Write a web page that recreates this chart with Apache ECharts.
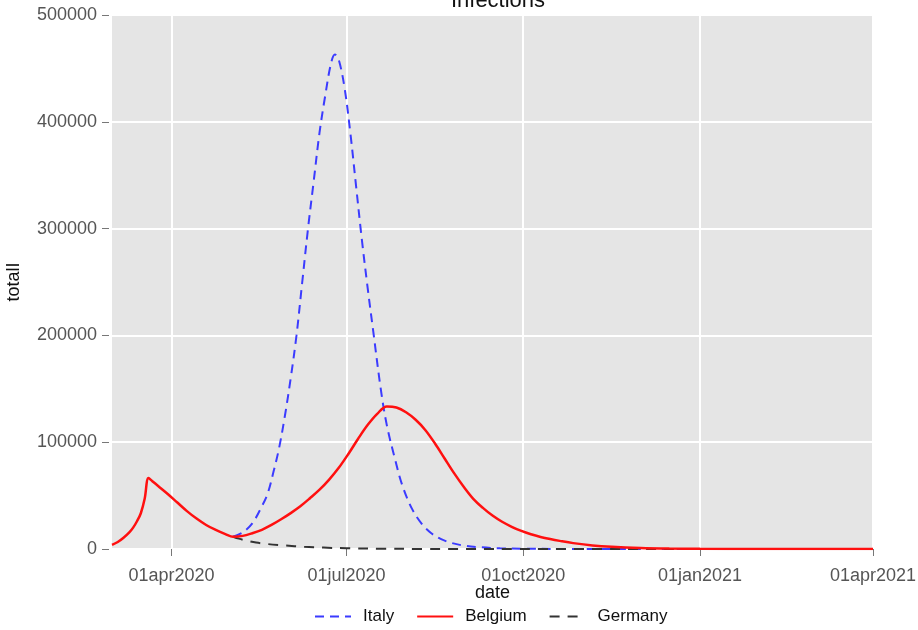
<!DOCTYPE html>
<html lang="en">
  <head>
    <meta charset="UTF-8" />
    <title>Infections</title>
    <style>
      body {
        margin: 0;
        padding: 0;
        background-color: #ffffff;
      }
      #container {
        width: 918px;
        height: 630px;
      }
    </style>
  </head>
  <body>
    <div id="container"></div>

    <script src="https://cdn.jsdelivr.net/npm/echarts@6/dist/echarts.min.js"></script>
    <script>
      // dates (ticks on the x axis)
      const xTickDates = ["2020-04-01", "2020-07-01", "2020-10-01", "2021-01-01", "2021-04-01"];
      const xTickLabels = ["01apr2020", "01jul2020", "01oct2020", "01jan2021", "01apr2021"];
      const xMin = "2020-03-01";
      const xMax = "2021-04-01";

      // Belgium (red, solid)
      const belgiumDates = [
        "2020-03-01", "2020-03-04", "2020-03-07", "2020-03-10", "2020-03-12", "2020-03-14",
        "2020-03-16", "2020-03-18", "2020-03-20", "2020-03-22", "2020-03-25", "2020-03-30",
        "2020-04-04", "2020-04-09", "2020-04-14", "2020-04-19", "2020-04-24", "2020-04-29",
        "2020-05-03", "2020-05-08", "2020-05-13", "2020-05-18", "2020-05-23", "2020-05-28",
        "2020-06-02", "2020-06-07", "2020-06-12", "2020-06-17", "2020-06-22", "2020-06-27",
        "2020-07-02", "2020-07-07", "2020-07-12", "2020-07-17", "2020-07-22", "2020-07-27",
        "2020-08-01", "2020-08-06", "2020-08-11", "2020-08-16", "2020-08-21", "2020-08-26",
        "2020-08-31", "2020-09-05", "2020-09-10", "2020-09-15", "2020-09-20", "2020-09-25",
        "2020-09-30", "2020-10-05", "2020-10-10", "2020-10-15", "2020-10-20", "2020-10-27",
        "2020-11-06", "2020-11-16", "2020-12-01", "2020-12-16", "2021-01-01", "2021-01-31",
        "2021-03-01", "2021-04-01"
      ];
      const belgiumValues = [
        3800, 6500, 10500, 15500, 20000, 26000,
        33500, 47000, 66500, 63500, 59000, 51500,
        43500, 35500, 28500, 22500, 17800, 14000,
        11500, 12300, 14800, 18000, 22500, 27800,
        33600, 40000, 47500, 55500, 65000, 76000,
        89000, 103000, 116000, 126500, 133500, 132500,
        128000, 121000, 111500, 99000, 85000, 71000,
        58300, 47000, 38500, 31300, 25500, 20800,
        16900, 13800, 11300, 9300, 7600, 5500,
        3300, 2000, 900, 380, 150, 50,
        20, 10
      ];

      // Italy (blue, dashed)
      const italyDates = [
        "2020-05-03", "2020-05-08", "2020-05-13", "2020-05-18", "2020-05-21", "2020-05-24",
        "2020-05-27", "2020-05-30", "2020-06-02", "2020-06-05", "2020-06-08", "2020-06-11",
        "2020-06-14", "2020-06-17", "2020-06-20", "2020-06-23", "2020-06-25", "2020-06-27",
        "2020-06-30", "2020-07-03", "2020-07-06", "2020-07-09", "2020-07-12", "2020-07-15",
        "2020-07-19", "2020-07-22", "2020-07-26", "2020-07-30", "2020-08-04", "2020-08-09",
        "2020-08-14", "2020-08-19", "2020-08-24", "2020-08-31", "2020-09-09", "2020-09-19",
        "2020-10-01", "2020-10-20", "2020-11-15", "2021-01-01", "2021-04-01"
      ];
      const italyValues = [
        11500, 15500, 24000, 40000, 52000, 72000,
        95000, 125000, 160000, 200000, 250000, 300000,
        345000, 390000, 425000, 455000, 463000, 458000,
        432000, 390000, 340000, 290000, 245000, 203000,
        148000, 116000, 86000, 60000, 38000, 24000,
        15000, 9500, 6000, 3200, 1600, 700,
        250, 80, 20, 5, 0
      ];

      // Germany (dark grey, dashed)
      const germanyDates = [
        "2020-05-03", "2020-05-06", "2020-05-10", "2020-05-15", "2020-05-20", "2020-05-30",
        "2020-06-09", "2020-06-19", "2020-07-01", "2020-07-20", "2020-08-10", "2020-09-15",
        "2021-04-01"
      ];
      const germanyValues = [
        11500, 9700, 7800, 6000, 4800, 3300,
        2100, 1300, 700, 250, 80, 15,
        0
      ];

      const t = (s) => +echarts.time.parse(s);
      const pairs = (dates, vals) => dates.map((d, i) => [t(d), vals[i]]);
      const tickValues = xTickDates.map(t);

      const chart = echarts.init(document.getElementById("container"));
      const font = "Liberation Sans, Arial, sans-serif";

      const option = {
        animation: false,
        textStyle: { fontFamily: font },
        title: {
          text: "Infections",
          left: 493,
          textAlign: "center",
          top: -15,
          textStyle: { fontSize: 22, fontWeight: "normal", color: "#111", fontFamily: font },
        },
        grid: {
          left: 112,
          right: 45,
          top: 15,
          bottom: 81,
          outerBoundsMode: "none",
          show: true,
          backgroundColor: "#e5e5e5",
          borderWidth: 0,
        },
        legend: {
          bottom: 0,
          left: 309,
          itemWidth: 36,
          itemHeight: 14,
          itemGap: 22,
          itemStyle: { opacity: 0 },
          data: ["Italy", "Belgium", "Germany"],
          textStyle: { fontSize: 17, color: "#111", fontFamily: font, padding: [0, 0, 0, 7] },
        },
        xAxis: {
          // dates as timestamps on a value axis so the ticks can sit on month starts
          type: "value",
          min: t(xMin),
          max: t(xMax),
          name: "date",
          nameLocation: "middle",
          nameGap: 35,
          nameMoveOverlap: false,
          nameTextStyle: { fontSize: 18, color: "#111" },
          axisLine: { show: false },
          axisTick: {
            show: true,
            customValues: tickValues,
            length: 7,
            lineStyle: { color: "#777" },
          },
          axisLabel: {
            customValues: tickValues,
            fontSize: 18,
            color: "#555",
            margin: 18,
            formatter: (v) => {
              const i = tickValues.indexOf(v);
              return i >= 0 ? xTickLabels[i] : "";
            },
          },
          splitLine: { show: true, lineStyle: { color: "#ffffff", width: 2 } },
        },
        yAxis: {
          type: "value",
          min: 0,
          max: 500000,
          interval: 100000,
          name: "totalI",
          nameLocation: "middle",
          nameGap: 86,
          nameTextStyle: { fontSize: 18, color: "#111" },
          offset: 3,
          axisLine: { show: false },
          axisTick: { show: true, length: 7, lineStyle: { color: "#777" } },
          axisLabel: { fontSize: 18, color: "#555", margin: 12, formatter: (v) => String(v) },
          splitLine: { show: true, lineStyle: { color: "#ffffff", width: 2 } },
        },
        series: [
          {
            name: "Italy",
            type: "line",
            data: pairs(italyDates, italyValues),
            smooth: 0.35,
            symbol: "none",
            z: 2,
            itemStyle: { color: "#3b3bff" },
            lineStyle: { color: "#3b3bff", width: 2, type: [9, 6] },
          },
          {
            name: "Belgium",
            type: "line",
            data: pairs(belgiumDates, belgiumValues),
            smooth: 0.35,
            symbol: "none",
            z: 4,
            itemStyle: { color: "#ff1010" },
            lineStyle: { color: "#ff1010", width: 2.5 },
          },
          {
            name: "Germany",
            type: "line",
            data: pairs(germanyDates, germanyValues),
            smooth: 0.35,
            symbol: "none",
            z: 3,
            itemStyle: { color: "#333333" },
            lineStyle: { color: "#333333", width: 2, type: [10, 8] },
          },
        ],
      };

      chart.setOption(option);
    </script>
  </body>
</html>
